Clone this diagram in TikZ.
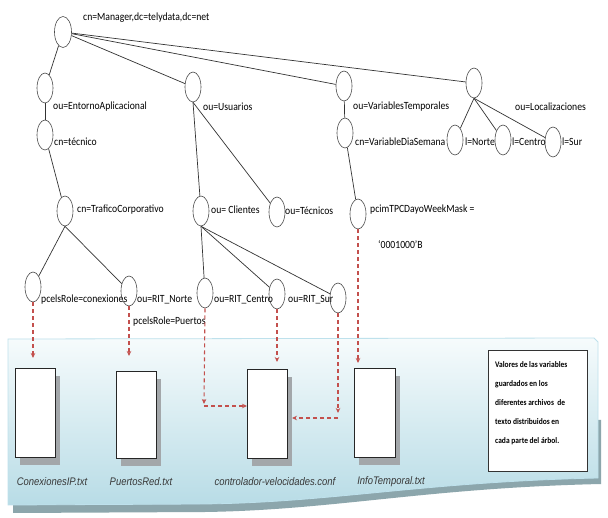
\documentclass[tikz,border=0pt]{standalone}
\usepackage{fontspec}
\setmainfont{Carlito}
\newfontfamily\lblfont[FakeStretch=0.88]{Carlito}
\newfontfamily\filefont[FakeStretch=0.86]{Liberation Sans}
\usetikzlibrary{arrows.meta,shapes.geometric}
\definecolor{dashred}{RGB}{195,80,77}
\definecolor{paneltop}{RGB}{246,251,252}
\definecolor{panelbot}{RGB}{184,220,230}
\definecolor{panelline}{RGB}{190,225,236}
\definecolor{panelshadow}{RGB}{140,166,172}
\definecolor{fileshadow}{RGB}{163,167,170}
\begin{document}
\begin{tikzpicture}[x=1pt,y=-1pt,
  nd/.style={draw=black!70, ellipse, minimum width=16pt, minimum height=30pt, inner sep=0pt, line width=0.6pt},
  lbl/.style={anchor=west, inner sep=0pt, font=\lblfont\fontsize{11}{13}\selectfont},
  edge/.style={draw=black!80, line width=0.7pt},
  dsh/.style={draw=dashred, dash pattern=on 4pt off 3pt, line width=1.1pt},
  dsharr/.style={dsh, -{Stealth[length=5pt,width=4.5pt]}},
  filebox/.style={draw=black!85, fill=white, rectangle, line width=0.6pt, inner sep=0pt},
  fname/.style={font=\filefont\itshape\fontsize{11}{13}\selectfont, text=black!78, inner sep=0pt}
]
\useasboundingbox (0,0) rectangle (608,518);
\fill[white] (0,0) rectangle (608,518);

% panel
\fill[panelshadow] (13,420) -- (601,420) -- (601,484)
  .. controls (425,488) and (335,510) .. (205,512) -- (13,513) -- cycle;
\path[top color=paneltop, bottom color=panelbot, draw=panelline, line width=0.8pt]
  (8,339) -- (594,338) -- (598,342) -- (598,478)
  .. controls (420,482) and (330,503) .. (200,504) -- (8,505) -- cycle;

% tree nodes
\node[nd, minimum width=17pt, minimum height=31pt] (root) at (63,32) {};
\node[nd] (ea) at (45,88) {};
\node[nd] (tec) at (45,135) {};
\node[nd] (us) at (193,87) {};
\node[nd] (vt) at (344,86) {};
\node[nd] (vds) at (345,133) {};
\node[nd] (loc) at (474,83) {};
\node[nd] (no) at (455,140) {};
\node[nd] (ce) at (503,140) {};
\node[nd] (su) at (553,142) {};
\node[nd] (tc) at (65,211) {};
\node[nd] (cl) at (201,211) {};
\node[nd] (tq) at (277,212) {};
\node[nd] (pc) at (358,214) {};
\node[nd] (cx) at (33,287) {};
\node[nd] (rn) at (129,291) {};
\node[nd] (rc) at (205,293) {};
\node[nd] (rs) at (277,294) {};
\node[nd] (r4) at (338,298) {};

% edges
\draw[edge] (root) -- (ea);
\draw[edge] (root) -- (us);
\draw[edge] (root) -- (vt);
\draw[edge] (root) -- (loc);
\draw[edge] (ea) -- (tec);
\draw[edge] (tec) -- (tc);
\draw[edge] (tc.south) -- (cx);
\draw[edge] (tc.south) -- (rn);
\draw[edge] (us.south) -- (cl);
\draw[edge] (us.south) -- (tq);
\draw[edge] (cl.south) -- (rc);
\draw[edge] (cl.south) -- (rs);
\draw[edge] (cl.south) -- (r4);
\draw[edge] (vt) -- (vds);
\draw[edge] (vds) -- (pc);
\draw[edge] (loc.south) -- (no);
\draw[edge] (loc.south) -- (ce);
\draw[edge] (loc.south) -- (su);

% labels
\node[lbl] (t1) at (83,18) {cn=Manager,dc=telydata,dc=net};
\node[lbl] (t2) at (53,107) {ou=EntornoAplicacional};
\node[lbl] (t3) at (54,142) {cn=técnico};
\node[lbl] (t4) at (203,107) {ou=Usuarios};
\node[lbl] (t5) at (353,107) {ou=VariablesTemporales};
\node[lbl] (t6) at (515,107) {ou=Localizaciones};
\node[lbl] (t7) at (355,142) {cn=VariableDiaSemana};
\node[lbl] (t8) at (465,142) {l=Norte};
\node[lbl] (t9) at (512,142) {l=Centro};
\node[lbl] (t10) at (562,142) {l=Sur};
\node[lbl] (t11) at (77,210) {cn=TraficoCorporativo};
\node[lbl] (t12) at (211,210) {ou= Clientes};
\node[lbl] (t13) at (285,211) {ou=Técnicos};
\node[lbl] (t14) at (370,210) {pcimTPCDayoWeekMask =};
\node[lbl] (t15) at (378,245) {‘0001000’B};
\node[lbl] (t16) at (41,300) {pcelsRole=conexiones};
\node[lbl] (t17) at (137,300) {ou=RIT\_Norte};
\node[lbl] (t18) at (133,322) {pcelsRole=Puertos};
\node[lbl] (t19) at (214,300) {ou=RIT\_Centro};
\node[lbl] (t20) at (288,300) {ou=RIT\_Sur};

% file boxes
\fill[fileshadow] (20,376) rectangle (60,465);
\fill[fileshadow] (121,379) rectangle (161,466);
\fill[fileshadow] (252,377) rectangle (292,466);
\fill[fileshadow] (359,376) rectangle (400,465);
\node[filebox, minimum width=40pt, minimum height=89pt] (f1) at (35,412.5) {};
\node[filebox, minimum width=40pt, minimum height=87pt] (f2) at (136,414.5) {};
\node[filebox, minimum width=40pt, minimum height=89pt] (f3) at (267,413.5) {};
\node[filebox, minimum width=41pt, minimum height=89pt] (f4) at (374.5,412.5) {};
\node[fname] (n1) at (52,482) {ConexionesIP.txt};
\node[fname] (n2) at (141,482) {PuertosRed.txt};
\node[fname] (n3) at (275,482) {controlador-velocidades.conf};
\node[fname] (n4) at (391,482) {InfoTemporal.txt};

% note
\node[draw=black!80, fill=white, line width=0.6pt, minimum width=99pt, minimum height=121pt, inner sep=0pt] (note) at (537.5,410.5) {};
\node[anchor=north west, inner sep=0pt, align=left, font=\lblfont\bfseries\fontsize{8.5}{19}\selectfont] (notetext) at (495,361)
  {Valores de las variables\\guardados en los\\diferentes archivos \ de\\texto distribuidos en\\cada parte del árbol.};

% dashed arrows
\coordinate (a1) at (33,358);
\coordinate (a2) at (129,356);
\coordinate (c1) at (204,404);
\coordinate (c1b) at (204,406);
\coordinate (a3) at (247,406);
\coordinate (a4) at (277,362);
\coordinate (c2) at (338,413);
\coordinate (c2b) at (338,418);
\coordinate (a5) at (292,418);
\coordinate (a6) at (358,363);
\draw[dsharr] (cx.south) -- (a1);
\draw[dsharr] (rn.south) -- (a2);
\draw[dsharr] (rc.south) -- (c1);
\draw[dsharr] (c1b) -- (a3);
\draw[dsharr] (rs.south) -- (a4);
\draw[dsharr] (r4.south) -- (c2);
\draw[dsharr] (c2b) -- (a5);
\draw[dsharr] (pc.south) -- (a6);
\end{tikzpicture}
\end{document}
